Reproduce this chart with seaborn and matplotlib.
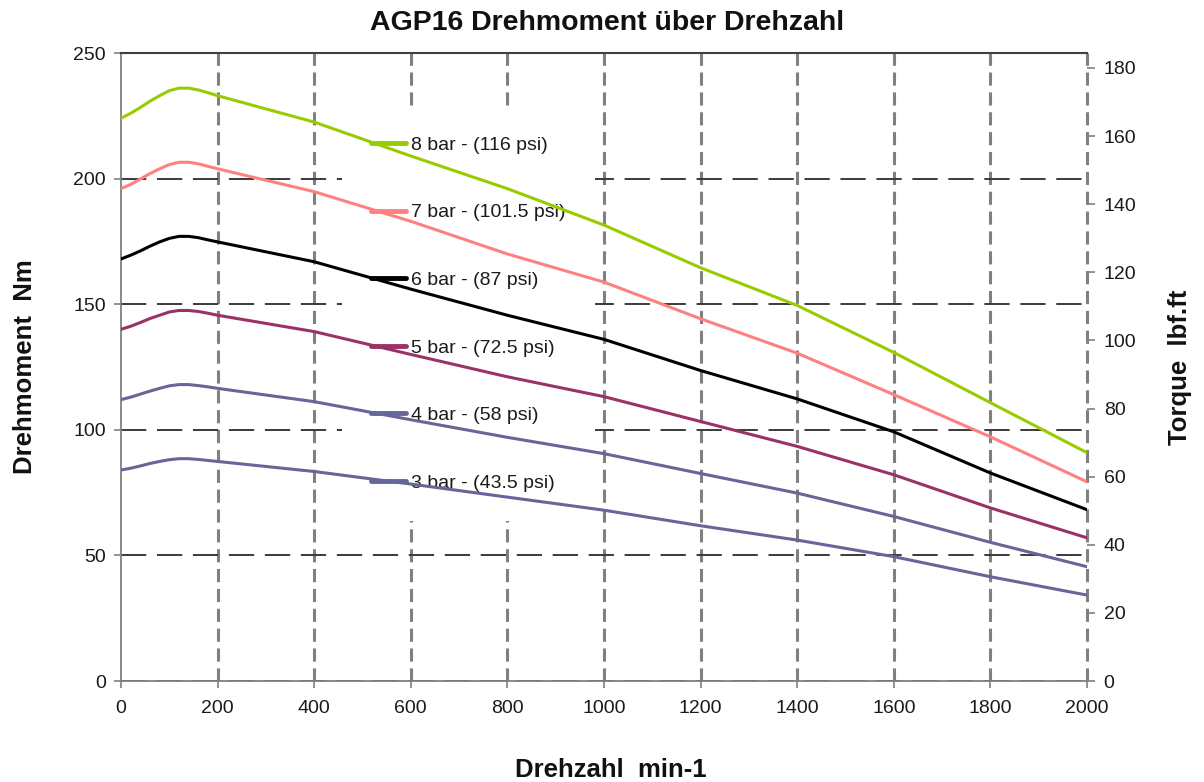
import matplotlib
matplotlib.use("Agg")
import matplotlib.pyplot as plt
import seaborn as sns
import pandas as pd
import numpy as np

# ---- data ----
rpm = [0, 20, 40, 60, 80, 100, 120, 140, 160, 180, 200, 400, 600, 800, 1000, 1200, 1400, 1600, 1800, 2000]
bar8 = [224, 226, 228.3, 230.8, 233, 235, 236, 236, 235.3, 234.2, 233, 222.5, 209, 196, 181.5, 164.5, 149.5, 130.8, 110.8, 90.9]
bar7 = [196, 197.7, 199.8, 202.0, 203.9, 205.6, 206.5, 206.5, 205.9, 204.9, 203.9, 194.8, 183, 170, 158.8, 144.2, 130.5, 114, 97.2, 79.3]
bar6 = [168, 169.5, 171.2, 173.1, 174.8, 176.2, 177.0, 177.0, 176.5, 175.6, 174.8, 166.9, 156, 145.6, 136, 123.6, 112.3, 99.2, 82.8, 68.2]
bar5 = [140, 141.2, 142.7, 144.3, 145.6, 146.9, 147.5, 147.5, 147.1, 146.4, 145.6, 139.1, 130, 121.1, 113.2, 103.3, 93.4, 82.1, 68.9, 57]
bar4 = [112, 113.0, 114.2, 115.4, 116.5, 117.5, 118.0, 118.0, 117.6, 117.1, 116.5, 111.2, 104, 97, 90.5, 82.6, 74.8, 65.5, 55.2, 45.5]
bar3 = [84, 84.7, 85.6, 86.6, 87.4, 88.1, 88.5, 88.5, 88.2, 87.8, 87.4, 83.4, 78.4, 73.2, 68, 61.8, 56.1, 49.5, 41.5, 34.2]

series_labels = ["8 bar - (116 psi)", "7 bar - (101.5 psi)", "6 bar - (87 psi)",
                 "5 bar - (72.5 psi)", "4 bar - (58 psi)", "3 bar - (43.5 psi)"]
series_values = [bar8, bar7, bar6, bar5, bar4, bar3]
colors = ["#99CC00", "#FF8080", "#000000", "#993366", "#666699", "#666699"]

x_ticks = list(range(0, 2001, 200))
y_ticks = list(range(0, 251, 50))
y2_ticks = list(range(0, 181, 20))
NM_TO_LBFFT = 0.737562

title = "AGP16 Drehmoment über Drehzahl"
xlabel = "Drehzahl  min-1"
ylabel = "Drehmoment  Nm"
y2label = "Torque  lbf.ft"

# ---- style ----
sns.set_theme(style="white")
plt.rcParams["font.family"] = ["Liberation Sans", "DejaVu Sans"]

df = pd.concat([pd.DataFrame({"rpm": rpm, "Nm": v, "series": lab})
                for lab, v in zip(series_labels, series_values)], ignore_index=True)

fig = plt.figure(figsize=(12.04, 7.82), dpi=100)
ax = fig.add_axes([121/1204, 1-681/782, (1087-121)/1204, (681-53)/782])

sns.lineplot(data=df, x="rpm", y="Nm", hue="series", hue_order=series_labels,
             palette=colors, linewidth=2.2, ax=ax, legend=True, zorder=3)
for ln in ax.get_lines():
    ln.set_solid_joinstyle("round")

ax.set_xlim(0, 2000)
ax.set_ylim(0, 250)
ax.set_xticks(x_ticks)
ax.set_yticks(y_ticks)
ax.set_axisbelow(True)

ax.xaxis.grid(True, color="#808080", linewidth=2.2, linestyle=(0, (4.3, 2.2)))
ax.yaxis.grid(True, color="#3a3a3a", linewidth=1.4, linestyle=(0, (13, 5.5)))
xgl = ax.get_xgridlines()
for gl in xgl:
    gl.set_clip_on(False)
xgl[0].set_visible(False)

for s in ["left", "bottom"]:
    ax.spines[s].set_color("#808080")
    ax.spines[s].set_linewidth(1.3)
ax.spines["top"].set_color("#404040")
ax.spines["top"].set_linewidth(1.5)
ax.spines["right"].set_visible(False)

ax.tick_params(axis="both", which="major", direction="out", length=5, width=1.2,
               color="#808080", labelsize=14, labelcolor="#1a1a1a", pad=6)
ax.tick_params(axis="x", pad=9)
ax.tick_params(left=True, bottom=True)

ax.set_xlabel("")
ax.set_ylabel("")

# legend in middle with white box (hides grid, lines drawn above)
handles, labels = ax.get_legend_handles_labels()
leg = ax.legend(handles, labels, loc="upper left",
                bbox_to_anchor=((342-121)/966, (681-107)/628),
                borderaxespad=0, frameon=True, facecolor="white", edgecolor="none",
                framealpha=1, fancybox=False, fontsize=14, labelspacing=2.57,
                handlelength=1.8, handletextpad=0.25, borderpad=1.5)
leg.set_zorder(2.5)
for t in leg.get_texts():
    t.set_color("#1a1a1a")
for ln in leg.get_lines():
    ln.set_linewidth(3.5)

# secondary axis
ax2 = ax.twinx()
ax2.set_ylim(0, 250 * NM_TO_LBFFT)
ax2.set_yticks(y2_ticks)
for s in ax2.spines.values():
    s.set_visible(False)
ax2.tick_params(axis="y", right=True, direction="out", length=6, width=1.2,
                color="#808080", labelsize=14, labelcolor="#1a1a1a", pad=6)
ax2.grid(False)

fig.text(0.5 + 0.004, 1 - 23/782, title, ha="center", va="center",
         fontsize=20.5, fontweight="bold", color="#111111")
fig.text(611/1204, 1 - 770/782, xlabel, ha="center", va="center",
         fontsize=18.5, fontweight="bold", color="#111111")
fig.text(25/1204, 1 - 367/782, ylabel, ha="center", va="center", rotation=90,
         fontsize=18.5, fontweight="bold", color="#111111")
fig.text(1180/1204, 1 - 367/782, y2label, ha="center", va="center", rotation=90,
         fontsize=18.5, fontweight="bold", color="#111111")

fig.savefig("out.png", dpi=100)
